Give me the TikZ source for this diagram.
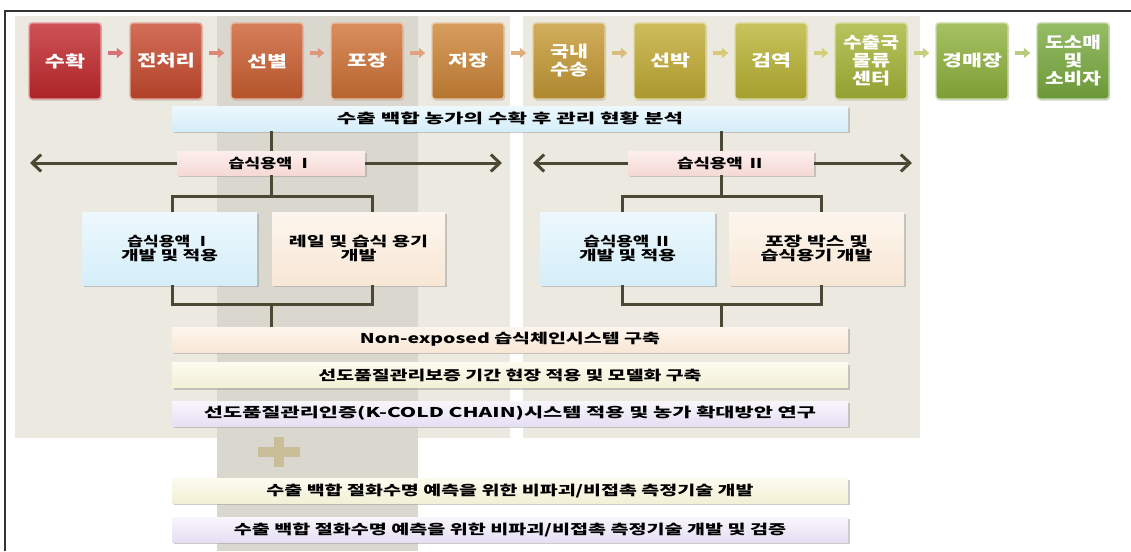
\documentclass[tikz,border=0pt]{standalone}
\usepackage{graphicx}
\usepackage{fontspec}
\setmainfont{Noto Sans CJK KR}
\IfFontExistsTF{Noto Sans CJK KR Black}
  {\newfontfamily\krb{Noto Sans CJK KR Black}}
  {\IfFontExistsTF{Noto Sans CJK KR Bold}
     {\newfontfamily\krb{Noto Sans CJK KR Bold}}
     {\newfontfamily\krb{Noto Sans CJK KR}}}
\newcommand\rw[2]{\resizebox{#1pt}{\height}{#2}}
\usetikzlibrary{arrows.meta, shadows, calc}
\definecolor{c1}{HTML}{C2282C}
\definecolor{c2}{HTML}{C84A2E}
\definecolor{c3}{HTML}{CC5F30}
\definecolor{c4}{HTML}{CF7234}
\definecolor{c5}{HTML}{CD8536}
\definecolor{c6}{HTML}{C69A34}
\definecolor{c7}{HTML}{C2AC33}
\definecolor{c8}{HTML}{BAB433}
\definecolor{c9}{HTML}{A5B637}
\definecolor{c10}{HTML}{8FB23C}
\definecolor{c11}{HTML}{7AAC40}
\definecolor{panel}{HTML}{ECE9E1}
\definecolor{strip}{HTML}{DAD7CF}
\definecolor{tree}{HTML}{4B4833}
\definecolor{plusc}{HTML}{C9BE97}
\definecolor{pinkT}{HTML}{FCEFEC}\definecolor{pinkB}{HTML}{F5D9D6}
\definecolor{blueT}{HTML}{EDF8FD}\definecolor{blueB}{HTML}{D5EEF9}
\definecolor{peachT}{HTML}{FDF6EE}\definecolor{peachB}{HTML}{F8E7D5}
\definecolor{creamT}{HTML}{FCFBEF}\definecolor{creamB}{HTML}{F2F0D5}
\definecolor{lavT}{HTML}{F8F6FC}\definecolor{lavB}{HTML}{E5DFF3}
\begin{document}
\begin{tikzpicture}[x=1pt,y=-1pt,
  stepbox/.style={rectangle, rounded corners=3pt, minimum width=72pt, minimum height=76pt,
    inner sep=0pt, text=white, align=center, font=\krb\fontsize{16}{18}\selectfont,
    draw=#1!45!white, line width=1.4pt, top color=#1!80!white, bottom color=#1!88!black,
    drop shadow={shadow xshift=1pt, shadow yshift=-1.5pt, fill=black!35}},
  flowarrow/.style={draw=#1!65!white, line width=4.5pt, -{Triangle[length=6.5pt,width=10pt]}},
  softbox/.style n args={2}{rectangle, inner sep=0pt, align=center, text=black,
    top color=#1, bottom color=#2, draw=none,
    drop shadow={shadow xshift=2pt, shadow yshift=-2pt, fill=black!40}},
  bar/.style n args={2}{softbox={#1}{#2}, minimum width=676pt, minimum height=25pt,
    font=\krb\fontsize{13.5}{15}\selectfont},
  midbox/.style n args={2}{softbox={#1}{#2}, minimum height=73pt,
    font=\krb\fontsize{13.5}{14.5}\selectfont},
  pinkbox/.style={softbox={pinkT}{pinkB}, minimum height=24pt,
    font=\krb\fontsize{13.5}{15}\selectfont},
  treeline/.style={draw=tree, line width=3pt},
  tip/.style={-{Straight Barb[length=9pt,width=17pt,line width=3pt]}}
]
\useasboundingbox (0,0) rectangle (1131,551);
\fill[white] (0,0) rectangle (1131,551);
% background panels
\fill[panel] (15,16) rectangle (510,438);
\fill[panel] (523,16) rectangle (920,438);
\fill[strip] (217,16) rectangle (418,551);
% frame
\draw[line width=1.2pt, black!80] (5,551) -- (5,11) -- (1131,11);

% process steps
\node[stepbox=c1]  (s1)  at (65,61)   {\rw{40}{수확}};
\node[stepbox=c2]  (s2)  at (166,61)  {\rw{58}{전처리}};
\node[stepbox=c3]  (s3)  at (267,61)  {\rw{40}{선별}};
\node[stepbox=c4]  (s4)  at (367,61)  {\rw{40}{포장}};
\node[stepbox=c5]  (s5)  at (468,61)  {\rw{40}{저장}};
\node[stepbox=c6]  (s6)  at (569,61)  {\rw{38}{국내}\\\rw{38}{수송}};
\node[stepbox=c7]  (s7)  at (670,61)  {\rw{40}{선박}};
\node[stepbox=c8]  (s8)  at (771,61)  {\rw{40}{검역}};
\node[stepbox=c9]  (s9)  at (871,61)  {\rw{56}{수출국}\\\rw{38}{물류}\\\rw{38}{센터}};
\node[stepbox=c10] (s10) at (972,61)  {\rw{60}{경매장}};
\node[stepbox=c11] (s11) at (1073,61) {\rw{56}{도소매}\\\rw{19}{및}\\\rw{56}{소비자}};

\foreach \a/\b/\c in {1/2/c1,2/3/c2,3/4/c3,4/5/c4,5/6/c5,6/7/c6,7/8/c7,8/9/c8,9/10/c9,10/11/c10}{
  \draw[flowarrow=\c] ($(s\a.east)+(6,-8)$) -- ($(s\b.west)+(-6,-8)$);
}

% title bar
\node[bar={blueT}{blueB}] (title) at (510,118.5)
  {\rw{346}{수출 백합 농가의 수확 후 관리 현황 분석}};

% left tree
\node[pinkbox, minimum width=188pt] (p1) at (271,163) {\rw{85}{습식용액 Ⅰ}};
\node[midbox={blueT}{blueB}, minimum width=175pt] (q1) at (169.5,248.5)
  {\rw{84}{습식용액 Ⅰ}\\\rw{97}{개발 및 적용}};
\node[midbox={peachT}{peachB}, minimum width=173pt] (q2) at (358.5,248.5)
  {\rw{139}{레일 및 습식 용기}\\\rw{36}{개발}};

% right tree
\node[pinkbox, minimum width=186pt] (p2) at (721,163) {\rw{88}{습식용액 Ⅱ}};
\node[midbox={blueT}{blueB}, minimum width=175pt] (q3) at (627.5,248.5)
  {\rw{88}{습식용액 Ⅱ}\\\rw{97}{개발 및 적용}};
\node[midbox={peachT}{peachB}, minimum width=175pt] (q4) at (816.5,248.5)
  {\rw{103}{포장 박스 및}\\\rw{112}{습식용기 개발}};

% bars
\node[bar={peachT}{peachB}] (nb) at (510,339.5) {\rw{300}{Non-exposed 습식체인시스템 구축}};
\node[bar={creamT}{creamB}] (bb) at (510,375) {\rw{383}{선도품질관리보증 기간 현장 적용 및 모델화 구축}};
\node[bar={lavT}{lavB}] (cb) at (510,413.5) {\rw{612}{선도품질관리인증(K-COLD CHAIN)시스템 적용 및 농가 확대방안 연구}};
\node[bar={creamT}{creamB}] (db) at (510,490.5) {\rw{487}{수출 백합 절화수명 예측을 위한 비파괴/비접촉 측정기술 개발}};
\node[bar={lavT}{lavB}] (eb) at (510,529.5) {\rw{552}{수출 백합 절화수명 예측을 위한 비파괴/비접촉 측정기술 개발 및 검증}};

% plus sign
\fill[plusc] (258,447) rectangle (300,457);
\fill[plusc] (274,437) rectangle (284,467);

% coordinates
\coordinate (la1) at (30,163);
\coordinate (ra1) at (502,163);
\coordinate (la2) at (533,163);
\coordinate (ra2) at (912,163);
\coordinate (b1l) at (172,196);
\coordinate (b1r) at (372,196);
\coordinate (c1l) at (172,304);
\coordinate (c1r) at (372,304);
\coordinate (b2l) at (622,196);
\coordinate (b2r) at (821,196);
\coordinate (c2l) at (622,304);
\coordinate (c2r) at (821,304);

% left connectors
\draw[treeline] (p1.north |- title.south) -- (p1.north);
\draw[treeline, tip] (p1.west) -- (la1);
\draw[treeline, tip] (p1.east) -- (ra1);
\draw[treeline] (p1.south) -- (p1.south |- b1l);
\draw[treeline] (b1l |- q1.north) -- (b1l) -- (b1r) -- (b1r |- q2.north);
\draw[treeline] (c1l |- q1.south) -- (c1l) -- (c1r) -- (c1r |- q2.south);
\draw[treeline] (p1.south |- c1l) -- (p1.south |- nb.north);

% right connectors
\draw[treeline] (p2.north |- title.south) -- (p2.north);
\draw[treeline, tip] (p2.west) -- (la2);
\draw[treeline, tip] (p2.east) -- (ra2);
\draw[treeline] (p2.south) -- (p2.south |- b2l);
\draw[treeline] (b2l |- q3.north) -- (b2l) -- (b2r) -- (b2r |- q4.north);
\draw[treeline] (c2l |- q3.south) -- (c2l) -- (c2r) -- (c2r |- q4.south);
\draw[treeline] (p2.south |- c2l) -- (p2.south |- nb.north);
\end{tikzpicture}
\end{document}
